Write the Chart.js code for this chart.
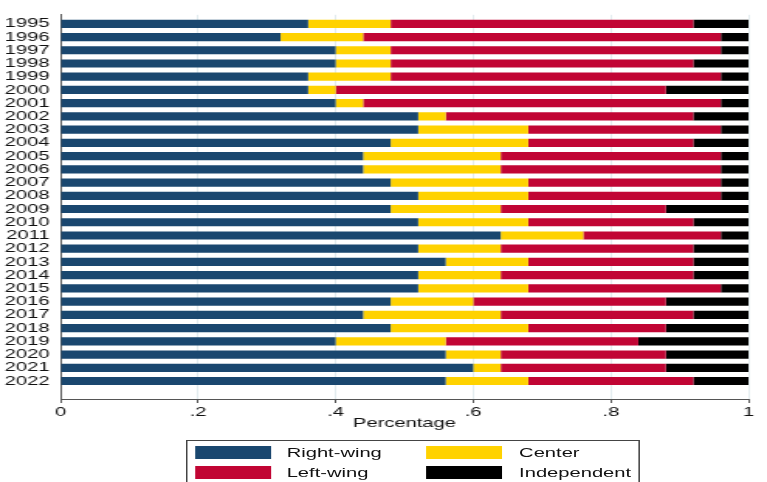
<!DOCTYPE html>
<html>
<head>
<meta charset="utf-8">
<script src="https://cdn.jsdelivr.net/npm/chart.js@4.4.1/dist/chart.umd.min.js"></script>
<style>
	html, body { margin: 0; padding: 0; background: #fff; overflow: hidden; }
	#wrap {
		position: absolute; left: 0; top: 0;
		width: 495px; height: 482px;
		transform: scaleX(1.5495); transform-origin: 0 0;
	}
	#myChart { position: absolute; left: 0; top: 0; }
	#legendBox {
		position: absolute; left: 120px; top: 440px;
		width: 293px; height: 60px;
		border: 1px solid #444; box-sizing: border-box;
		font-family: "Liberation Sans", Arial, sans-serif; font-size: 13px; color: #111;
	}
	.sw { position: absolute; width: 49px; height: 13px; }
	.lb { position: absolute; line-height: 13px; white-space: nowrap; }
</style>
</head>
<body>
<div id="wrap">
	<canvas id="myChart" width="495" height="482"></canvas>
	<div id="legendBox"></div>
</div>
<script>
var years = [1995, 1996, 1997, 1998, 1999, 2000, 2001, 2002, 2003, 2004, 2005, 2006, 2007, 2008,
	2009, 2010, 2011, 2012, 2013, 2014, 2015, 2016, 2017, 2018, 2019, 2020, 2021, 2022];

var seriesNames = ['Right-wing', 'Center', 'Left-wing', 'Independent'];
var seriesColors = ['#1a476f', '#ffd200', '#c10534', '#000000'];

// shares per year (sum = 1)
var rightWing   = [.36, .32, .40, .40, .36, .36, .40, .52, .52, .48, .44, .44, .48, .52, .48, .52, .64, .52, .56, .52, .52, .48, .44, .48, .40, .56, .60, .56];
var center      = [.12, .12, .08, .08, .12, .04, .04, .04, .16, .20, .20, .20, .20, .16, .16, .16, .12, .12, .12, .12, .16, .12, .20, .20, .16, .08, .04, .12];
var leftWing    = [.44, .52, .48, .44, .48, .48, .52, .36, .28, .24, .32, .32, .28, .28, .24, .24, .20, .28, .24, .28, .28, .28, .28, .20, .28, .24, .24, .24];
var independent = [.08, .04, .04, .08, .04, .12, .04, .08, .04, .08, .04, .04, .04, .04, .12, .08, .04, .08, .08, .08, .04, .12, .08, .12, .16, .12, .12, .08];

var xTicks = [0, .2, .4, .6, .8, 1];

var FONT = "'Liberation Sans', Arial, sans-serif";

function _makeData(values) {
	return years.map(function(yr, i) {
		return { x: values[i], y: yr };
	});
}

function _setDatasets() {
	var all = [rightWing, center, leftWing, independent];
	return all.map(function(values, i) {
		return {
			label: seriesNames[i],
			data: _makeData(values),
			backgroundColor: seriesColors[i],
			borderWidth: 0,
			barPercentage: 0.62,
			categoryPercentage: 1
		};
	});
}

function _tickLabel(v) {
	if (v === 0 || v === 1) return String(v);
	return String(Math.round(v * 10) / 10).replace(/^0/, '');
}

function _buildLegend() {
	var box = document.getElementById('legendBox');
	var pos = [[5, 64, 5], [154, 214, 5], [5, 64, 25], [154, 214, 25]];
	seriesNames.forEach(function(name, i) {
		var sw = document.createElement('div');
		sw.className = 'sw';
		sw.style.left = pos[i][0] + 'px';
		sw.style.top = pos[i][2] + 'px';
		sw.style.background = seriesColors[i];
		box.appendChild(sw);
		var lb = document.createElement('div');
		lb.className = 'lb';
		lb.style.left = pos[i][1] + 'px';
		lb.style.top = pos[i][2] + 'px';
		lb.textContent = name;
		box.appendChild(lb);
	});
}

var config = {
	type: 'bar',
	data: { datasets: _setDatasets() },
	options: {
		indexAxis: 'y',
		responsive: false,
		animation: false,
		layout: { padding: { top: 14, left: 3, right: 12, bottom: 52 } },
		plugins: {
			legend: { display: false },
			tooltip: { enabled: false }
		},
		scales: {
			x: {
				type: 'linear',
				stacked: true,
				min: 0,
				max: 1,
				afterBuildTicks: function(scale) {
					scale.ticks = xTicks.map(function(v) { return { value: v }; });
				},
				ticks: {
					padding: 3,
					color: '#111',
					font: { family: FONT, size: 13, lineHeight: 1 },
					callback: function(v) { return _tickLabel(v); }
				},
				grid: {
					color: '#e3ecef',
					lineWidth: 1,
					tickColor: '#555',
					tickLength: 4
				},
				border: { display: true, color: '#555', width: 1 },
				title: {
					display: true,
					text: 'Percentage',
					color: '#111',
					font: { family: FONT, size: 13, lineHeight: 1 },
					padding: { top: -5, bottom: 0 }
				}
			},
			y: {
				type: 'linear',
				reverse: true,
				stacked: true,
				offset: false,
				min: 1994.32,
				max: 2023.36,
				afterBuildTicks: function(scale) {
					scale.ticks = years.map(function(v) { return { value: v }; });
				},
				afterFit: function(scale) {
					scale.width = 36;
				},
				ticks: {
					autoSkip: false,
					padding: 7,
					color: '#111',
					font: { family: FONT, size: 13 },
					callback: function(v) { return String(v); }
				},
				grid: { display: false, drawTicks: false, offset: false },
				border: { display: true, color: '#555', width: 1 }
			}
		}
	}
};

var myChart = new Chart(document.getElementById('myChart'), config);
_buildLegend();
</script>
</body>
</html>
